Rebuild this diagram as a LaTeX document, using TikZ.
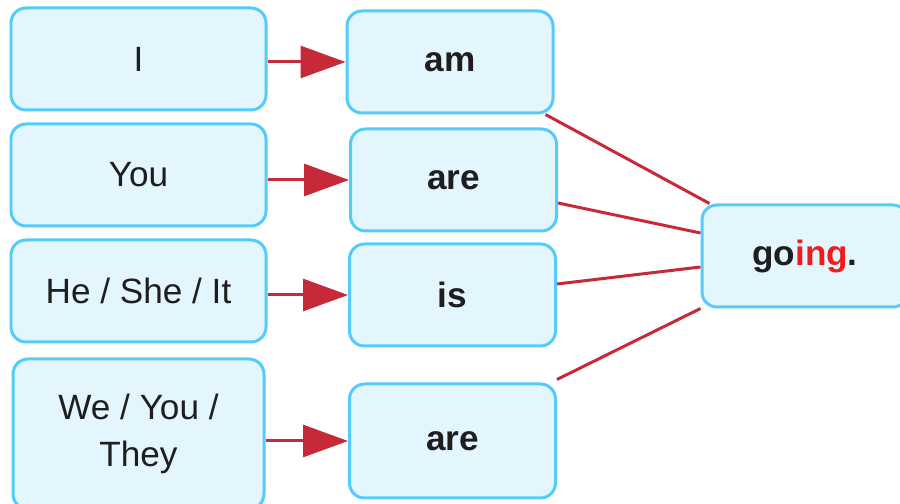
\documentclass[tikz,border=0pt]{standalone}
\usepackage{fontspec}
\setmainfont{Liberation Sans}
\usetikzlibrary{arrows.meta}

\definecolor{boxblue}{HTML}{55CBF9}
\definecolor{boxfill}{HTML}{E3F6FE}
\definecolor{linkred}{HTML}{C62A39}
\definecolor{ingred}{HTML}{EE1C1C}
\definecolor{textdark}{HTML}{1E1E1E}

\begin{document}
\begin{tikzpicture}[
        > = {Triangle[length=0.9cm,width=0.64cm]}, % arrow head style
        line width=0.06cm, % line style
        node distance = 2.32cm % distance between rows
      ]

      \tikzstyle{word}=[rectangle, rounded corners=0.3cm, draw=boxblue, fill=boxfill,
        minimum width=5.1cm, minimum height=2.04cm, text=textdark, align=center,
        font=\fontsize{20}{26.7}\selectfont]
      \tikzstyle{verb}=[word, minimum width=4.12cm, font=\bfseries\fontsize{20}{26.7}\selectfont]
      \tikzstyle{link}=[draw=linkred]

      \useasboundingbox (0,0) rectangle (18,-10.08);

      % subjects
      \node[word] (i) at (2.77,-1.18) {I};
      \node[word] (you) [below of=i] {You};
      \node[word] (he) [below of=you] {He / She / It};
      \node[word, minimum width=5.02cm, minimum height=3cm] (we) [below of=he, node distance=2.86cm] {We / You /\\They};

      % verbs
      \node[verb] (am) [right of=i, node distance=6.23cm, yshift=-0.06cm] {am};
      \node[verb] (are) [right of=you, node distance=6.3cm, yshift=-0.1cm] {are};
      \node[verb] (is) [right of=he, node distance=6.28cm, yshift=-0.08cm] {is};
      \node[verb, minimum height=2.28cm] (areb) [right of=we, node distance=6.28cm, yshift=-0.14cm] {are};

      \node[verb] (going) at (16.1,-5.12) {go\textcolor{ingred}{ing}.};

      \draw[link, ->] (i.east |- am.west) -- (am.west);
      \draw[link, ->] (you.east |- are.west) -- (are.west);
      \draw[link, ->] (he.east |- is.west) -- (is.west);
      \draw[link, ->] (we.east |- areb.west) -- (areb.west);

      \draw[link] ([xshift=-0.18cm]am.south east) -- ([xshift=0.18cm]going.north west);
      \draw[link] ([yshift=-0.46cm]are.east) -- ([yshift=0.46cm]going.west);
      \draw[link] ([yshift=0.22cm]is.east) -- ([yshift=-0.22cm]going.west);
      \draw[link] ([yshift=0.06cm]areb.north east) -- (going.south west);

    \end{tikzpicture}
\end{document}
